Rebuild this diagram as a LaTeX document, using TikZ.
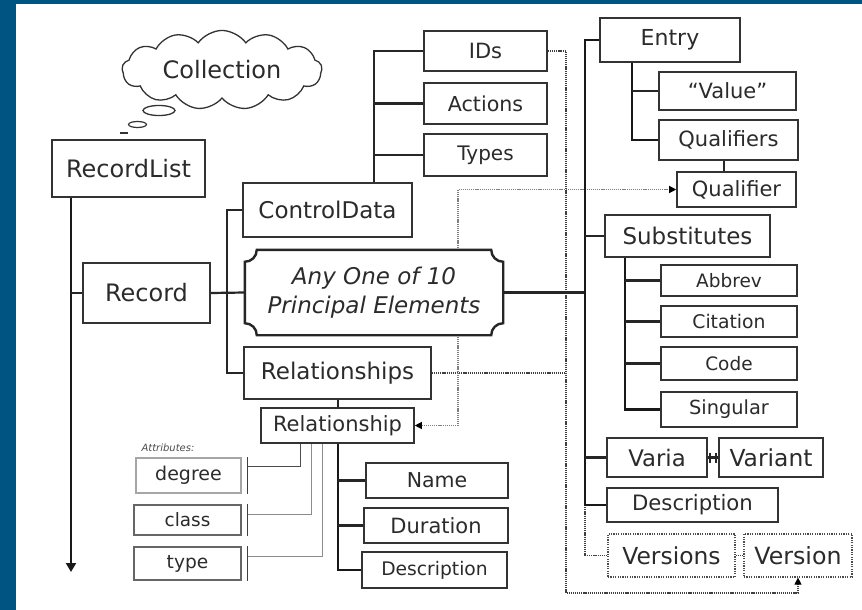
\documentclass[tikz,border=0pt]{standalone}
\usepackage{fontspec}
\setmainfont{DejaVu Sans}
\usetikzlibrary{shapes.symbols,arrows.meta}
\definecolor{bgblue}{HTML}{005482}
\definecolor{bc}{HTML}{333333}
\definecolor{tc}{HTML}{2B2B2B}
\newcommand\myfs[1]{\fontsize{#1}{#1}\selectfont}
\pgfdeclarelayer{back}
\pgfdeclarelayer{dots}
\pgfdeclarelayer{conns}
\pgfsetlayers{back,dots,conns,main}
\begin{document}
\begin{tikzpicture}[x=1pt,y=-1pt,
  box/.style={draw=bc,line width=1.6pt,fill=white,text=tc,inner sep=0pt,align=center},
  dbox/.style={box,draw=black!70,line width=1.2pt,dash pattern=on 1.2pt off 1.2pt},
  abox/.style={box,line width=1.1pt},
  trunk/.style={line width=2.6pt,black!90},
  conn/.style={line width=2.2pt,black!85},
  attrbar/.style={line width=1.5pt,black!75},
  attrline/.style={line width=1pt,black!45},
  dotk/.style={line width=1.2pt,black!75,dash pattern=on 1.2pt off 0.9pt},
  dotg/.style={line width=1.2pt,black!50,dash pattern=on 1.2pt off 0.9pt},
  endtip/.style={-{Triangle[length=7pt,width=7pt,color=black]}},
  bothtip/.style={{Triangle[length=7pt,width=7pt,color=black]}-{Triangle[length=7pt,width=7pt,color=black]}}
]
\begin{pgfonlayer}{back}
\fill[bgblue] (0,0) rectangle (862,610);
\fill[white] (16,4) rectangle (862,610);
\end{pgfonlayer}

% cloud
\node[cloud,cloud puffs=13,cloud puff arc=110,aspect=2.8,draw=bc,line width=1.3pt,fill=white,
  minimum width=200pt,minimum height=74pt,inner sep=0pt,text=tc,font=\myfs{24}] (coll) at (222,70) {Collection};
\draw[bc,line width=1.3pt] (159,110.5) ellipse [x radius=16pt,y radius=5pt];
\draw[bc,line width=1.2pt] (137.5,124.5) ellipse [x radius=9pt,y radius=3pt];
\draw[bc,line width=1.6pt] (120,133) -- (128,133);

% left part
\node[box,minimum width=153pt,minimum height=57pt,font=\myfs{24}] (rl) at (128.5,168.5) {RecordList};
\node[box,minimum width=127pt,minimum height=60pt,font=\myfs{24}] (rec) at (146.5,293) {Record};
\node[box,minimum width=169pt,minimum height=54pt,font=\myfs{23}] (ctl) at (327.5,210) {ControlData};
\node[minimum width=258pt,minimum height=85pt,inner sep=0pt,align=center,text=tc,font=\myfs{23}\itshape] (pe) at (374,292.5) {Any One of 10\\[6pt]Principal Elements};
\node[box,minimum width=187pt,minimum height=52pt,font=\myfs{23}] (rels) at (337.5,373) {Relationships};
\node[box,minimum width=153pt,minimum height=35pt,font=\myfs{21}] (relp) at (337.5,425.5) {Relationship};
\node[box,minimum width=142pt,minimum height=35pt,font=\myfs{20.5}] (name) at (437,480.5) {Name};
\node[box,minimum width=144pt,minimum height=35pt,font=\myfs{21}] (dur) at (436,525.5) {Duration};
\node[box,minimum width=145pt,minimum height=36pt,font=\myfs{18.7}] (desca) at (434.5,570) {Description};

% attributes
\node[text=black!70,font=\myfs{10}\itshape] (attl) at (168,448) {Attributes:};
\node[abox,draw=black!35,minimum width=105pt,minimum height=35pt,font=\myfs{19}] (deg) at (188.5,475.5) {degree};
\node[abox,draw=black!60,minimum width=107pt,minimum height=30pt,font=\myfs{18.4}] (cls) at (187.5,520) {class};
\node[abox,draw=black!60,minimum width=107pt,minimum height=33pt,font=\myfs{18.6}] (typa) at (187.5,563.5) {type};

% control data children
\node[box,minimum width=123pt,minimum height=40pt,font=\myfs{21}] (ids) at (485.5,51) {IDs};
\node[box,minimum width=123pt,minimum height=41pt,font=\myfs{20.6}] (act) at (485.5,103.5) {Actions};
\node[box,minimum width=123pt,minimum height=42pt,font=\myfs{20}] (typ) at (485.5,155) {Types};

% right part
\node[box,minimum width=140pt,minimum height=44pt,font=\myfs{22}] (entry) at (670,40) {Entry};
\node[box,minimum width=137pt,minimum height=38pt,font=\myfs{21}] (val) at (727.5,91) {“Value”};
\node[box,minimum width=139pt,minimum height=40pt,font=\myfs{21}] (quals) at (728.5,140) {Qualifiers};
\node[box,minimum width=119pt,minimum height=35pt,font=\myfs{21}] (qual) at (736.5,189.5) {Qualifier};
\node[box,minimum width=165pt,minimum height=42pt,font=\myfs{23}] (subs) at (687.5,236) {Substitutes};
\node[box,minimum width=136pt,minimum height=31pt,font=\myfs{18.5}] (abb) at (729,280.5) {Abbrev};
\node[box,minimum width=136pt,minimum height=31pt,font=\myfs{18.8}] (cit) at (729,321.5) {Citation};
\node[box,minimum width=136pt,minimum height=33pt,font=\myfs{18.5}] (code) at (729,363.5) {Code};
\node[box,minimum width=136pt,minimum height=35pt,font=\myfs{19.4}] (sing) at (729,409.5) {Singular};
\node[box,minimum width=100pt,minimum height=39pt,font=\myfs{22.8}] (varia) at (657,457.5) {Varia};
\node[box,minimum width=104pt,minimum height=39pt,font=\myfs{23.4}] (variant) at (771,457.5) {Variant};
\node[box,minimum width=171pt,minimum height=34pt,font=\myfs{21.2}] (descb) at (692.5,505) {Description};
\node[dbox,minimum width=127pt,minimum height=43pt,font=\myfs{23.4}] (vers) at (671.5,555.5) {Versions};
\node[dbox,minimum width=108pt,minimum height=43pt,font=\myfs{23.7}] (ver) at (798,555.5) {Version};

% coordinates for trunks
\coordinate (arrEnd) at (71,572);
\coordinate (tA) at (227,0);
\coordinate (tB) at (374,0);
\coordinate (tC) at (585,0);
\coordinate (tD) at (632,0);
\coordinate (tE) at (625,0);
\coordinate (tF) at (338,0);
\coordinate (tQ) at (724,0);
\coordinate (aD) at (300,0);
\coordinate (aC) at (311,0);
\coordinate (aT) at (322,0);
\coordinate (dG) at (566,593);
\coordinate (dH) at (458,0);

\begin{pgfonlayer}{dots}
% dotted links (beneath everything)
\draw[dotk,endtip] (ids.east) -| (dG) -| (ver.south);
\draw[dotk] (rels.east) -- (rels.east -| dG);
\draw[dotg,bothtip] (relp.east) -| (qual.west -| dH) -- (qual.west);
\draw[dotk] (descb.west -| tC) |- (vers.west);
\draw[dotk] (vers.east) -- (ver.west);
\end{pgfonlayer}

\begin{pgfonlayer}{conns}
% principal elements plaque outline
\draw[line width=2.4pt,black!85,fill=white]
  ([xshift=12pt]pe.north west) -- ([xshift=-12pt]pe.north east)
  arc[start angle=180,end angle=270,radius=12pt]
  -- ([yshift=12pt]pe.south east)
  arc[start angle=90,end angle=180,radius=12pt]
  -- ([xshift=12pt]pe.south west)
  arc[start angle=0,end angle=90,radius=12pt]
  -- ([yshift=-12pt]pe.north west)
  arc[start angle=270,end angle=360,radius=12pt] -- cycle;
% record list stem
\draw[trunk,-{Triangle[length=9pt,width=10pt]}] (rl.south -| arrEnd) -- (arrEnd);
\draw[conn] (rec.west) -- (rec.west -| arrEnd);
\draw[conn] (rec.east) -- (pe.west);
\draw[conn] (ctl.west) -- (ctl.west -| tA) -- (rels.west -| tA) -- (rels.west);
% control data
\draw[conn] (ctl.north -| tB) -- (ids.west -| tB) -- (ids.west);
\draw[conn] (act.west -| tB) -- (act.west);
\draw[conn] (typ.west -| tB) -- (typ.west);
% principal elements trunk
\draw[conn] (pe.east) -- (pe.east -| tC);
\draw[trunk] (entry.west) -- (entry.west -| tC) -- (descb.west -| tC) -- (descb.west);
\draw[conn] (subs.west -| tC) -- (subs.west);
\draw[conn] (varia.west -| tC) -- (varia.west);
\draw[trunk] (entry.south -| tD) -- (quals.west -| tD) -- (quals.west);
\draw[conn] (val.west -| tD) -- (val.west);
\draw[conn] (quals.south -| tQ) -- (qual.north -| tQ);
\draw[trunk] (subs.south -| tE) -- (sing.west -| tE) -- (sing.west);
\draw[conn] (abb.west -| tE) -- (abb.west);
\draw[conn] (cit.west -| tE) -- (cit.west);
\draw[conn] (code.west -| tE) -- (code.west);
\draw[conn] (varia.east) -- (variant.west);
\draw[conn] ([yshift=5pt]varia.east) ++(2pt,0) -- ++(0,-10pt);
\draw[conn] ([yshift=5pt]variant.west) ++(-2pt,0) -- ++(0,-10pt);
% relationships
\draw[conn] (rels.south -| tF) -- (relp.north -| tF);
\draw[trunk] (relp.south -| tF) -- (desca.west -| tF) -- (desca.west);
\draw[conn] (name.west -| tF) -- (name.west);
\draw[conn] (dur.west -| tF) -- (dur.west);
% attributes
\draw[attrbar] ([xshift=6pt]deg.north east) -- ([xshift=6pt]deg.south east);
\draw[attrbar] ([xshift=6pt]cls.north east) -- ([xshift=6pt]cls.south east);
\draw[attrbar] ([xshift=6pt]typa.north east) -- ([xshift=6pt]typa.south east);
\draw[attrline,black!70] ([xshift=6pt,yshift=9pt]deg.east) -| (relp.south -| aD);
\draw[attrline] ([xshift=6pt,yshift=6pt]cls.east) -| (relp.south -| aC);
\draw[attrline] ([xshift=6pt,yshift=7.5pt]typa.east) -| (relp.south -| aT);
\end{pgfonlayer}
\end{tikzpicture}
\end{document}
